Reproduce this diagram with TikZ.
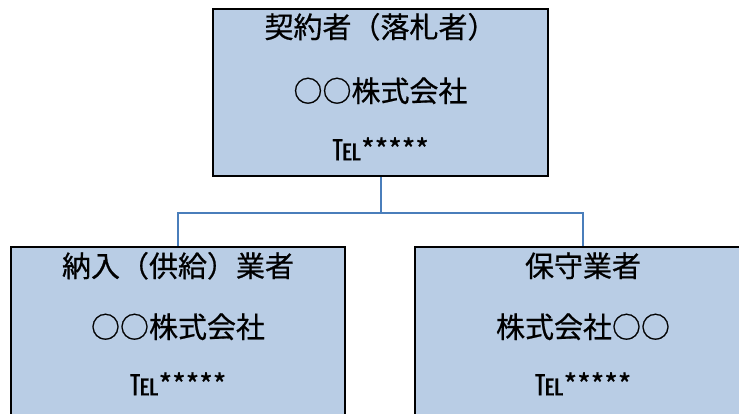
\documentclass[tikz,border=0pt]{standalone}
\usepackage{fontspec}
\newfontfamily\jp[FakeBold=0.6]{Noto Sans CJK JP}
\usetikzlibrary{calc}
\definecolor{boxfill}{HTML}{B9CDE5}
\definecolor{connblue}{HTML}{4A7EBB}
\tikzset{
  orgbox/.style={draw=black, line width=2.4pt, fill=boxfill, inner sep=0pt},
  txt/.style={inner sep=0pt, font=\jp\fontsize{29}{33}\selectfont},
  conn/.style={draw=connblue, line width=2pt}
}
\begin{document}
\begin{tikzpicture}[x=1pt,y=1pt]
\useasboundingbox (0,0) rectangle (739,-413);
\node[orgbox, minimum width=335pt, minimum height=167pt] (top) at (380.5,-92.5) {};
\node[orgbox, minimum width=334pt, minimum height=170pt] (left) at (178,-332) {};
\node[orgbox, minimum width=336pt, minimum height=170pt] (right) at (583,-332) {};
\draw[conn] (top.south) -- ++(0,-36) coordinate (j) -| (left.north);
\draw[conn] (j) -| (right.north);
\node[txt] (t1) at ([yshift=-19pt]top.north) {契約者（落札者）};
\node[txt] (t2) at ([yshift=-83pt]top.north) {○○株式会社};
\node[txt] (t3) at ([yshift=-141pt]top.north) {℡*****};
\node[txt] (l1) at ([yshift=-20pt]left.north) {納入（供給）業者};
\node[txt] (l2) at ([yshift=-81pt]left.north) {○○株式会社};
\node[txt] (l3) at ([yshift=-138pt]left.north) {℡*****};
\node[txt] (r1) at ([yshift=-20pt]right.north) {保守業者};
\node[txt] (r2) at ([yshift=-81pt]right.north) {株式会社○○};
\node[txt] (r3) at ([yshift=-138pt]right.north) {℡*****};
\end{tikzpicture}
\end{document}
